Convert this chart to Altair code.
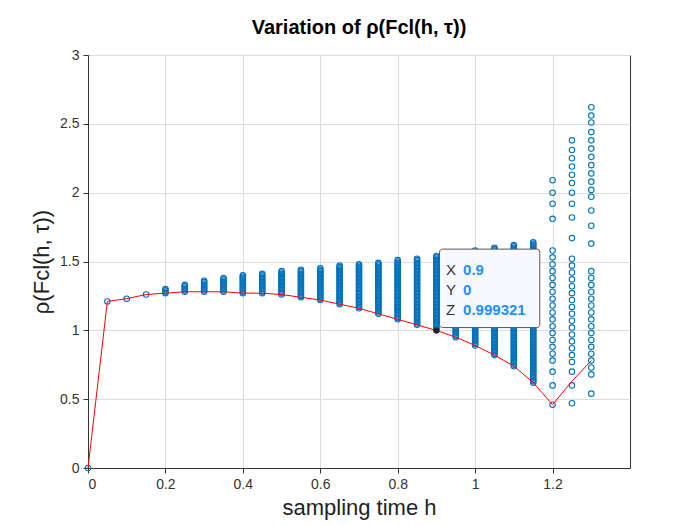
import altair as alt
import pandas as pd
import numpy as np

# dense columns: x, min, max
col_x   = [0.2, 0.25, 0.3, 0.35, 0.4, 0.45, 0.5, 0.55, 0.6, 0.65, 0.7, 0.75, 0.8, 0.85, 0.9, 0.95, 1.0, 1.05, 1.1, 1.15]
col_min = [1.27, 1.28, 1.28, 1.28, 1.27, 1.27, 1.26, 1.24, 1.22, 1.19, 1.16, 1.12, 1.08, 1.04, 1.00, 0.95, 0.89, 0.82, 0.74, 0.62]
col_max = [1.30, 1.33, 1.36, 1.38, 1.40, 1.41, 1.43, 1.44, 1.45, 1.47, 1.48, 1.49, 1.51, 1.52, 1.54, 1.56, 1.58, 1.60, 1.62, 1.64]
single_x = [0.0, 0.05, 0.1, 0.15]
single_y = [0.0, 1.21, 1.23, 1.26]
x120 = [2.09, 2.00, 1.92, 1.81, 0.70, 0.60, 0.46]
x125 = [2.38, 2.31, 2.25, 2.19, 2.13, 2.07, 2.00, 1.92, 1.82, 1.67, 0.70, 0.60, 0.47]
x130 = [2.62, 2.56, 2.51, 2.44, 2.38, 2.32, 2.26, 2.20, 2.14, 2.08, 2.02, 1.97, 1.87, 1.76, 1.63, 0.54]
dense_tail = {1.2: (0.78, 1.61), 1.25: (0.77, 1.53), 1.3: (0.68, 1.45)}
line_x = [0, 0.05, 0.1, 0.15, 0.2, 0.25, 0.3, 0.35, 0.4, 0.45, 0.5, 0.55, 0.6, 0.65, 0.7, 0.75, 0.8, 0.85, 0.9, 0.95, 1.0, 1.05, 1.1, 1.15, 1.2, 1.25, 1.3]
line_y = [0, 1.21, 1.23, 1.26, 1.27, 1.28, 1.28, 1.28, 1.27, 1.27, 1.26, 1.24, 1.22, 1.19, 1.16, 1.12, 1.08, 1.04, 0.999, 0.95, 0.89, 0.82, 0.74, 0.62, 0.46, 0.63, 0.78]

rows = [(x, y) for x, y in zip(single_x, single_y)]
for x, lo, hi in zip(col_x, col_min, col_max):
    for y in np.arange(lo, hi + 1e-9, 0.01):
        rows.append((x, float(y)))
for x, (lo, hi) in dense_tail.items():
    for y in np.arange(lo, hi + 1e-9, 0.05):
        rows.append((x, float(y)))
rows += [(1.2, y) for y in x120] + [(1.25, y) for y in x125] + [(1.3, y) for y in x130]
pts = pd.DataFrame(rows, columns=["x", "y"])
ln = pd.DataFrame({"x": line_x, "y": line_y})

xs = alt.Scale(domain=[0, 1.4], nice=False)
ys = alt.Scale(domain=[0, 3], nice=False)
X = alt.X("x:Q", scale=xs, title="sampling time h",
          axis=alt.Axis(values=[0, 0.2, 0.4, 0.6, 0.8, 1, 1.2], format="~g"))
Y = alt.Y("y:Q", scale=ys, title="ρ(Fcl(h, τ))",
          axis=alt.Axis(values=[0, 0.5, 1, 1.5, 2, 2.5, 3], format="~g"))

scatter = alt.Chart(pts).mark_point(shape="circle", size=30, color="#0072BD", strokeWidth=1.1, filled=False, opacity=1).encode(x=X, y=Y)
line = alt.Chart(ln).mark_line(color="red", strokeWidth=1).encode(x="x:Q", y="y:Q")
dot = alt.Chart(pd.DataFrame({"x": [0.9], "y": [0.999]})).mark_point(shape="circle", size=35, filled=True, color="#222", opacity=1).encode(x="x:Q", y="y:Q")
box = alt.Chart(pd.DataFrame({"x": [0.908], "x2": [1.167], "y": [1.02], "y2": [1.59]})).mark_rect(
    fill="#f8f8ff", stroke="#555", strokeWidth=1, cornerRadius=3).encode(x="x:Q", x2="x2:Q", y="y:Q", y2="y2:Q")
lab = pd.DataFrame({"x": [0.925]*3, "y": [1.435, 1.29, 1.145], "k": ["X", "Y", "Z"], "v": ["0.9", "0", "0.999321"]})
tk = alt.Chart(lab).mark_text(align="left", fontSize=15, color="#333", font="Liberation Sans").encode(x="x:Q", y="y:Q", text="k:N")
tv = alt.Chart(lab).mark_text(align="left", dx=17, fontSize=15, fontWeight="bold", color="#1E90FF", font="Liberation Sans").encode(x="x:Q", y="y:Q", text="v:N")

chart = alt.layer(scatter, line, box, dot, tk, tv).properties(
    width=542, height=413,
    padding={"left": 22, "top": 10, "right": 5, "bottom": 5},
    title=alt.TitleParams("Variation of ρ(Fcl(h, τ))", fontSize=20, fontWeight="bold", font="Liberation Sans", color="#000", offset=10),
).configure_axis(
    labelFont="Liberation Sans", titleFont="Liberation Sans", labelFontSize=14, titleFontSize=22,
    titleFontWeight="normal", gridColor="#dcdcdc", domainColor="#333", tickColor="#333", labelColor="#333", titleColor="#222",
    labelPadding=4, titlePadding=6,
).configure_view(stroke="#333")

chart.save("out.html", embed_options={"renderer": "svg", "actions": False})
